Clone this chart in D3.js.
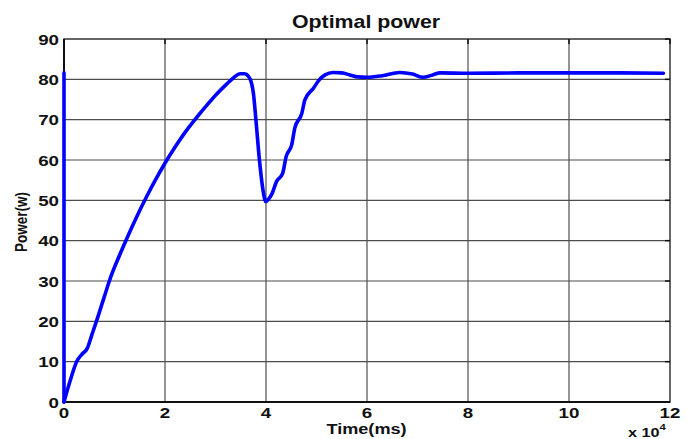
<!DOCTYPE html>
<html><head><meta charset="utf-8">
<script src="https://cdn.jsdelivr.net/npm/d3@7"></script>
<style>body{margin:0;background:#fff}svg{display:block}text{font-family:Arial,"Liberation Sans",sans-serif;font-weight:bold;fill:#111}</style>
</head><body>
<svg id="c" width="694" height="439"></svg>
<script>
// time in units of 10^4 ms
const timeVals = [0, 0, 0.12, 0.25, 0.36, 0.46, 0.55, 0.65, 0.8, 0.94, 1.1, 1.27, 1.45, 1.64, 1.8, 1.99, 2.2, 2.43, 2.63, 2.83, 3.02, 3.22, 3.36, 3.49, 3.58, 3.65, 3.71, 3.75, 3.80, 3.87, 3.95, 3.99, 4.05, 4.11, 4.21, 4.33, 4.40, 4.51, 4.57, 4.71, 4.77, 4.94, 5.05, 5.17, 5.33, 5.5, 5.66, 5.82, 5.99, 6.3, 6.65, 6.9, 7.11, 7.3, 7.45, 8, 9, 10, 11, 11.87];
const powerVals = [81.6, 0, 5.2, 10, 11.9, 13.3, 16.6, 20.3, 26.2, 31.5, 36.4, 41.3, 46.2, 51.0, 54.8, 59.0, 63.2, 67.4, 70.6, 73.6, 76.3, 78.8, 80.4, 81.4, 81.4, 80.8, 79.2, 76.6, 70, 60, 51.8, 49.7, 50.3, 51.4, 54.7, 56.7, 60.9, 63.8, 67.9, 71.6, 74.9, 77.8, 79.8, 81.1, 81.7, 81.6, 81.1, 80.6, 80.5, 80.9, 81.7, 81.3, 80.5, 81.1, 81.6, 81.5, 81.6, 81.6, 81.6, 81.5];
const xTicks = [0, 2, 4, 6, 8, 10, 12];
const yTicks = [0, 10, 20, 30, 40, 50, 60, 70, 80, 90];
const title = "Optimal power";
const xLabel = "Time(ms)";
const yLabel = "Power(w)";

const svg = d3.select("#c");
const L = 64, R = 670, T = 39, B = 402;
const x = d3.scaleLinear().domain([0, 12]).range([L, R]);
const y = d3.scaleLinear().domain([0, 90]).range([B, T]);
const SX = 1.25;

// grid
svg.append("g").selectAll("line").data(xTicks.slice(1, -1)).join("line")
  .attr("x1", d => x(d)).attr("x2", d => x(d)).attr("y1", T).attr("y2", B)
  .attr("stroke", "#4d4d4d").attr("stroke-width", 1.2);
svg.append("g").selectAll("line").data(yTicks.slice(1, -1)).join("line")
  .attr("y1", d => y(d)).attr("y2", d => y(d)).attr("x1", L).attr("x2", R)
  .attr("stroke", "#4d4d4d").attr("stroke-width", 1.2);

// frame
svg.append("rect").attr("x", L).attr("y", T).attr("width", R - L).attr("height", B - T)
  .attr("fill", "none").attr("stroke", "#333").attr("stroke-width", 1.5);
svg.append("line").attr("x1", L).attr("x2", R).attr("y1", B).attr("y2", B).attr("stroke", "#111").attr("stroke-width", 2);
svg.append("line").attr("x1", L).attr("x2", L).attr("y1", T).attr("y2", B).attr("stroke", "#111").attr("stroke-width", 2);

// ticks (inward)
svg.append("g").selectAll("line").data(xTicks).join("line")
  .attr("x1", d => x(d)).attr("x2", d => x(d)).attr("y1", T).attr("y2", T + 5).attr("stroke", "#111").attr("stroke-width", 1.5);
svg.append("g").selectAll("line").data(yTicks).join("line")
  .attr("y1", d => y(d)).attr("y2", d => y(d)).attr("x1", R - 5).attr("x2", R).attr("stroke", "#111").attr("stroke-width", 1.5);

// tick labels
svg.append("g").selectAll("text").data(yTicks).join("text")
  .attr("transform", d => `translate(59,${y(d) + 5.5}) scale(${SX},1)`)
  .attr("text-anchor", "end").attr("font-size", 15).text(d => d);
svg.append("g").selectAll("text").data(xTicks).join("text")
  .attr("transform", d => `translate(${x(d)},418) scale(${SX},1)`)
  .attr("text-anchor", "middle").attr("font-size", 15).text(d => d);

// line: initial spike (linear) + smooth response (monotone)
const pts = timeVals.map((t, i) => [t, powerVals[i]]);
const lineLin = d3.line().x(d => x(d[0])).y(d => y(d[1]));
const lineSmooth = d3.line().x(d => x(d[0])).y(d => y(d[1])).curve(d3.curveMonotoneX);
const style = p => p.attr("fill", "none").attr("stroke", "#0000ff").attr("stroke-width", 3.6)
  .attr("stroke-linejoin", "round").attr("stroke-linecap", "round");
svg.append("path").datum(pts.slice(0, 2)).attr("d", lineLin).call(style);
svg.append("path").datum(pts.slice(1)).attr("d", lineSmooth).call(style);

// titles
svg.append("text").attr("transform", `translate(366,28) scale(1.22,1)`)
  .attr("text-anchor", "middle").attr("font-size", 17.5).text(title);
svg.append("text").attr("transform", `translate(366.5,434) scale(${SX},1)`)
  .attr("text-anchor", "middle").attr("font-size", 14.5).text(xLabel);
svg.append("text").attr("transform", `translate(27,222) scale(${SX},1) rotate(-90)`)
  .attr("text-anchor", "middle").attr("font-size", 13.5).text(yLabel);
const ex = svg.append("text").attr("transform", `translate(628,437) scale(${SX},1)`).attr("font-size", 13);
ex.append("tspan").text("x 10");
ex.append("tspan").attr("dy", -7).attr("font-size", 9).text("4");
</script>
</body></html>
